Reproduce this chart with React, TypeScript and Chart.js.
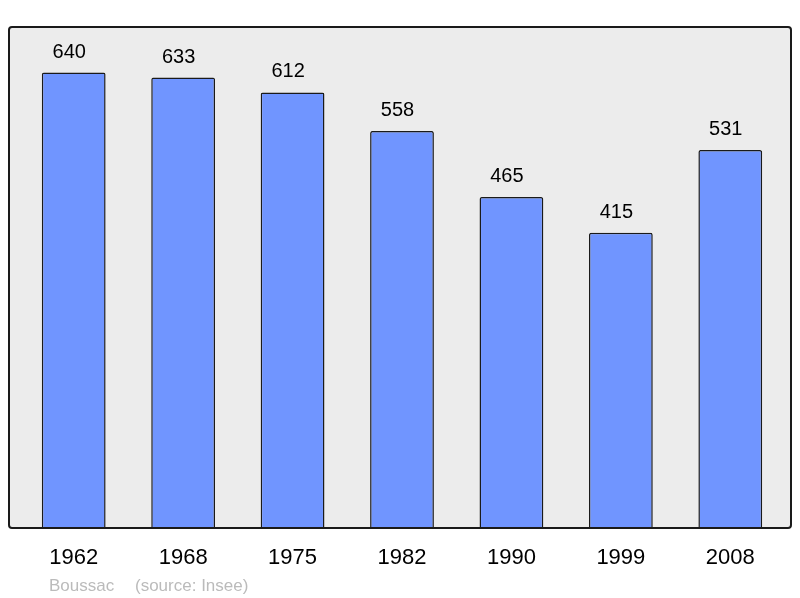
import React, { useEffect, useRef } from "react";
import { Chart, registerables } from "chart.js";

Chart.register(...registerables);

const years = ["1962", "1968", "1975", "1982", "1990", "1999", "2008"];
const population = [640, 633, 612, 558, 465, 415, 531];
const footerPlace = "Boussac";
const footerSource = "(source: Insee)";

const FONT = "'Liberation Sans', Arial, sans-serif";

const boxPlugin = {
  id: "boxPlugin",
  beforeDatasetsDraw(chart: any) {
    const { ctx, chartArea } = chart;
    const x0 = chartArea.left - 10;
    const x1 = chartArea.right + 6;
    const y0 = chartArea.top;
    const y1 = chartArea.bottom;
    ctx.save();
    ctx.beginPath();
    ctx.roundRect(x0, y0, x1 - x0, y1 - y0, 3);
    ctx.fillStyle = "#ececec";
    ctx.fill();
    ctx.restore();
  },
  afterDatasetsDraw(chart: any) {
    const { ctx, chartArea } = chart;
    const x0 = chartArea.left - 10;
    const x1 = chartArea.right + 6;
    const y0 = chartArea.top;
    const y1 = chartArea.bottom;
    ctx.save();
    ctx.beginPath();
    ctx.roundRect(x0, y0, x1 - x0, y1 - y0, 3);
    ctx.lineWidth = 2;
    ctx.strokeStyle = "#1a1a1a";
    ctx.stroke();
    // value labels
    const meta = chart.getDatasetMeta(0);
    ctx.fillStyle = "#000";
    ctx.font = `20px ${FONT}`;
    ctx.textAlign = "center";
    ctx.textBaseline = "middle";
    meta.data.forEach((bar: any, i: number) => {
      ctx.fillText(String(population[i]), bar.x - 4.5, bar.y - 20.5);
    });
    // footer
    ctx.fillStyle = "#bbbbbb";
    ctx.font = `17px ${FONT}`;
    ctx.textAlign = "left";
    ctx.fillText(footerPlace, 49, 586);
    ctx.fillText(footerSource, 135, 586);
    ctx.restore();
  },
};

export default function App() {
  const ref = useRef<HTMLCanvasElement | null>(null);
  useEffect(() => {
    if (!ref.current) return;
    const chart = new Chart(ref.current, {
      type: "bar",
      data: {
        labels: years,
        datasets: [
          {
            data: population,
            backgroundColor: "#7095ff",
            borderColor: "#1a1a1a",
            borderWidth: 1.5,
            borderRadius: 2,
            borderSkipped: "bottom",
            categoryPercentage: 1,
            barPercentage: 0.583,
          },
        ],
      },
      options: {
        animation: false,
        responsive: false,
        maintainAspectRatio: false,
        layout: { padding: { left: 19, right: 15, top: 27, bottom: 0 } },
        plugins: {
          legend: { display: false },
          tooltip: { enabled: false },
        },
        scales: {
          x: {
            grid: { display: false, drawTicks: false },
            border: { display: false },
            ticks: {
              color: "#000",
              font: { family: FONT, size: 22 },
              padding: 17,
              maxRotation: 0,
            },
            afterFit(scale: any) {
              scale.height = 70;
            },
          },
          y: {
            display: false,
            min: 0,
            max: 704,
          },
        },
      },
      plugins: [boxPlugin],
    });
    return () => chart.destroy();
  }, []);
  return (
    <div style={{ position: "fixed", left: 0, top: 0, width: 800, height: 598 }}>
      <canvas ref={ref} width={800} height={598} style={{ width: 800, height: 598 }} />
    </div>
  );
}
